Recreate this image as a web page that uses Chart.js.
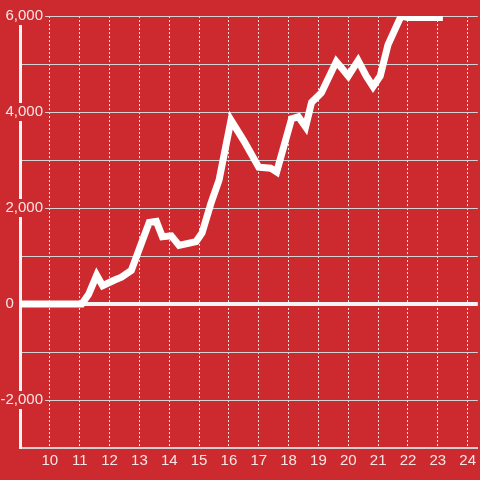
<!DOCTYPE html>
<html>
<head>
<meta charset="utf-8">
<script src="https://cdn.jsdelivr.net/npm/chart.js@4"></script>
<style>
html,body{margin:0;padding:0;background:#cc2a2e;}
#wrap{width:480px;height:480px;position:relative;}
</style>
</head>
<body>
<div id="wrap"><canvas id="c" width="480" height="480"></canvas></div>
<script>
// Data
const xValues = [9, 11.07, 11.3, 11.57, 11.77, 12.17, 12.4, 12.73, 13.0, 13.33, 13.57, 13.77, 14.07, 14.33, 14.9, 15.1, 15.4, 15.67, 16.07, 16.5, 17.0, 17.4, 17.6, 18.1, 18.33, 18.57, 18.77, 19.1, 19.6, 20.0, 20.33, 20.6, 20.83, 21.07, 21.33, 21.77, 22.0, 23.17];
const yValues = [0, 0, 200, 600, 380, 500, 560, 700, 1150, 1700, 1720, 1400, 1420, 1220, 1300, 1480, 2100, 2580, 3830, 3400, 2850, 2830, 2750, 3860, 3900, 3690, 4200, 4400, 5050, 4750, 5070, 4750, 4530, 4750, 5400, 6000, 5970, 5970];
const xTickValues = [10, 11, 12, 13, 14, 15, 16, 17, 18, 19, 20, 21, 22, 23, 24];
const yLabelValues = [-2000, 0, 2000, 4000, 6000];

const points = xValues.map((x, i) => ({x: x, y: yValues[i]}));
const textColor = 'rgba(255,255,255,0.88)';
const fontSpec = {family: '"Liberation Sans", Arial, sans-serif', size: 15};

new Chart(document.getElementById('c'), {
  type: 'line',
  data: {
    datasets: [{
      data: points,
      borderColor: '#ffffff',
      borderWidth: 7,
      pointRadius: 0,
      tension: 0,
      fill: false
    }]
  },
  options: {
    responsive: false,
    animation: false,
    events: [],
    layout: {padding: {top: 16, left: 0, right: 0, bottom: 0}},
    plugins: {legend: {display: false}, tooltip: {enabled: false}},
    scales: {
      x: {
        type: 'linear',
        min: 9,
        max: 24.34,
        afterBuildTicks: (s) => { s.ticks = xTickValues.map(v => ({value: v})); },
        afterFit: (s) => { s.height = 32; },
        grid: {
          color: 'rgba(255,255,255,0.85)',
          lineWidth: 1,
          drawTicks: false
        },
        border: {display: true, color: '#d0d0d0', width: 2, dash: [2, 2]},
        ticks: {
          color: textColor,
          font: fontSpec,
          padding: 4,
          maxRotation: 0,
          autoSkip: false,
          callback: (v) => String(v)
        }
      },
      y: {
        type: 'linear',
        min: -3000,
        max: 6000,
        afterBuildTicks: (s) => {
          const t = [];
          for (let v = -3000; v <= 6000; v += 1000) t.push({value: v});
          s.ticks = t;
        },
        afterFit: (s) => { s.width = 20; },
        grid: {
          color: (ctx) => ctx.tick && ctx.tick.value === 0 ? '#f4f4f4' : '#d3d3d3',
          lineWidth: (ctx) => ctx.tick && ctx.tick.value === 0 ? 4 : 1,
          drawTicks: false
        },
        border: {display: true, color: '#f4f4f4', width: 3},
        ticks: {
          color: textColor,
          font: fontSpec,
          mirror: true,
          crossAlign: 'far',
          padding: -19.5,
          autoSkip: false,
          callback: (v) => {
            if (!yLabelValues.includes(v)) return '';
            if (v === 0) return '0' + '\u00a0'.repeat(7);
            return v.toLocaleString('en-US');
          },
          showLabelBackdrop: (ctx) => ctx.tick && ctx.tick.value !== 0 && yLabelValues.includes(ctx.tick.value),
          backdropColor: '#cc2a2e',
          backdropPadding: {left: 2, right: 2, top: 0, bottom: 0}
        }
      }
    }
  }
});
</script>
</body>
</html>
